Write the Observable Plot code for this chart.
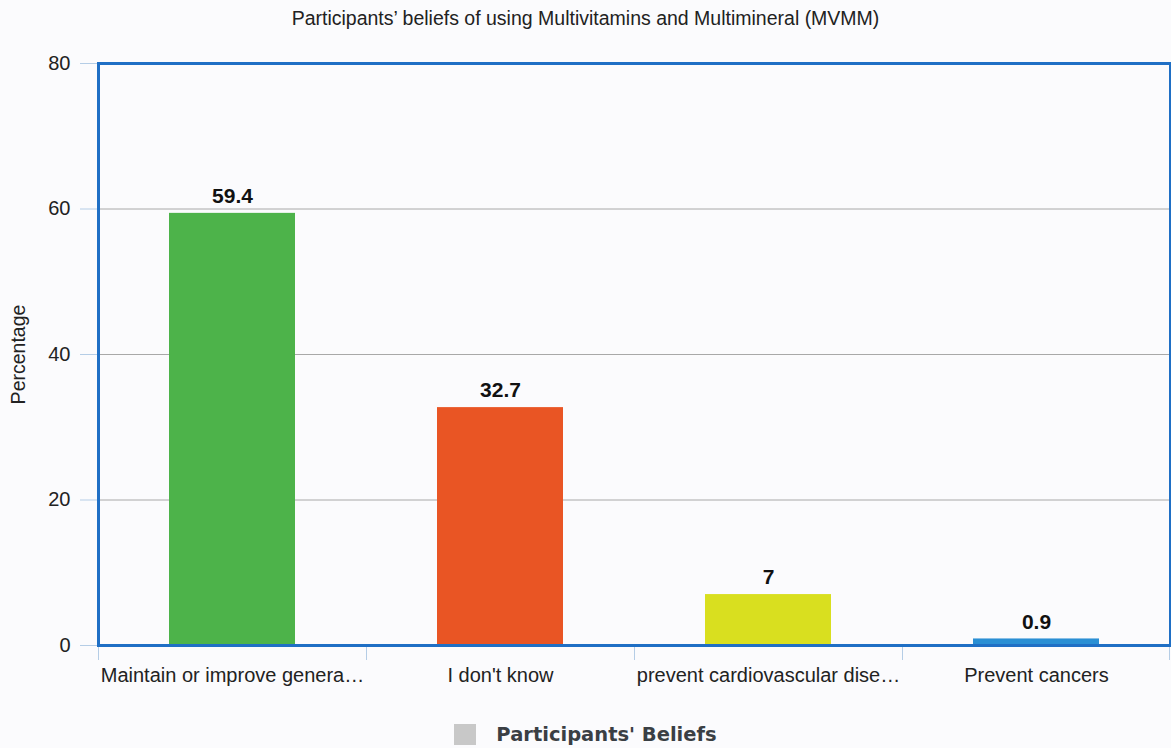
<!DOCTYPE html>
<html>
<head>
<meta charset="utf-8">
<script src="https://cdn.jsdelivr.net/npm/d3@7"></script>
<script src="https://cdn.jsdelivr.net/npm/@observablehq/plot@0.6"></script>
<style>
  html, body { margin: 0; padding: 0; background: #fbfbfd; }
  body { width: 1171px; height: 748px; overflow: hidden; font-family: "Liberation Sans", Arial, sans-serif; }
  #title { height: 36px; line-height: 36px; text-align: center; font-size: 19.5px; color: #222; }
  #legend { display: flex; justify-content: center; align-items: center; height: 44px; margin-top: 12px; }
  #legend .sw { width: 22px; height: 21px; background: #c8c8c8; margin-right: 20px; }
  #legend .lb { font-family: "DejaVu Sans", sans-serif; font-size: 19.5px; font-weight: bold; color: #3a3f44; }
</style>
</head>
<body>
<div id="title">Participants’ beliefs of using Multivitamins and Multimineral (MVMM)</div>
<div id="chart"></div>
<div id="legend"><div class="sw"></div><div class="lb">Participants' Beliefs</div></div>
<script>
const categories = ["Maintain or improve genera…", "I don't know", "prevent cardiovascular dise…", "Prevent cancers"];
const values = [59.4, 32.7, 7, 0.9];
const barColors = ["#4db34a", "#e95524", "#d9df1f", "#2a8fd4"];
const yTicks = [0, 20, 40, 60, 80];
const yLabel = "Percentage";

const data = categories.map((c, i) => ({category: c, value: values[i], color: barColors[i]}));

const W = 1171, mL = 98, mR = 1;
const band = (W - mL - mR) / categories.length;
const pInner = 0.53;

const chart = Plot.plot({
  width: W,
  height: 664,
  marginLeft: mL,
  marginRight: mR,
  marginTop: 27,
  marginBottom: 55,
  style: {background: "transparent", fontFamily: "Liberation Sans, Arial, sans-serif", fontSize: "20px", color: "#222"},
  x: {domain: categories, paddingInner: pInner, paddingOuter: pInner / 2, label: null},
  y: {domain: [0, 80], label: null},
  marks: [
    Plot.gridY({ticks: [20, 40, 60], stroke: "#a8a8a8", strokeOpacity: 1}),
    Plot.barY(data, {x: "category", y: "value", fill: "color"}),
    Plot.text(data, {x: "category", y: "value", text: d => String(d.value), dy: -17, fontWeight: "bold", fontSize: 21, fill: "#111"}),
    Plot.axisY({ticks: yTicks, tickSize: 18, tickPadding: 10, stroke: "#b5cde6", fill: "#222", fontSize: 20, label: null}),
    Plot.text([yLabel], {frameAnchor: "left", textAnchor: "middle", rotate: -90, dx: -80, fontSize: 19.5, fill: "#222", text: d => d}),
    Plot.axisX({tickSize: 0, tickPadding: 22, fill: "#222", fontSize: 20, label: null}),
    Plot.ruleX(categories, {x: d => d, y1: 0, y2: 0, insetBottom: -15, dx: -band / 2, stroke: "#b5cde6"}),
    Plot.ruleX(categories.slice(-1), {x: d => d, y1: 0, y2: 0, insetBottom: -15, dx: band / 2 - 1, stroke: "#b5cde6"}),
    Plot.frame({stroke: "#1f6fc5", strokeWidth: 3})
  ]
});
document.getElementById("chart").appendChild(chart);
</script>
</body>
</html>
